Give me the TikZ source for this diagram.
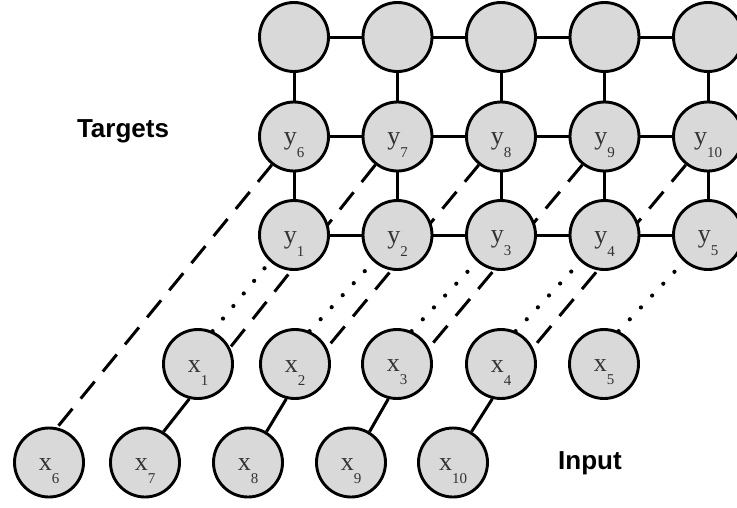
\documentclass[tikz,border=0pt]{standalone}
\usepackage{fontspec}
\setmainfont{Liberation Serif}
\newfontfamily\capfont{Liberation Sans}
\usetikzlibrary{backgrounds}
\definecolor{cellgray}{HTML}{D9D9D9}
\definecolor{textgray}{HTML}{333333}
% variable name with a lowered index; the strut keeps the pair centred like the drawing
\newcommand{\varlbl}[2]{\rule{0pt}{29pt}{\fontsize{26}{26}\selectfont #1}\raisebox{-13pt}{\fontsize{15}{15}\selectfont #2}}

\begin{document}
\begin{tikzpicture}[x=1pt,y=-1pt,
  unit/.style={circle, draw=black, line width=2.9pt, fill=cellgray,
    minimum size=69pt, inner sep=0pt, text=textgray},
  link/.style={line width=3pt},
  longdash/.style={line width=3pt, dash pattern=on 22pt off 13pt},
  dotlink/.style={line width=4.2pt, line cap=round, dash pattern=on 0pt off 16.3pt},
  caption/.style={font=\capfont\bfseries\fontsize{26}{26}\selectfont, text=black}]

\useasboundingbox (0,0) rectangle (737,507);

% hidden state row
\node[unit] (t1) at (294,37) {};
\node[unit] (t2) at (397.5,37) {};
\node[unit] (t3) at (501,37) {};
\node[unit] (t4) at (604.5,37) {};
\node[unit] (t5) at (708,37) {};

% target rows
\node[unit] (y6) at (294,136.5) {\varlbl{y}{6}};
\node[unit] (y7) at (397.5,136.5) {\varlbl{y}{7}};
\node[unit] (y8) at (501,136.5) {\varlbl{y}{8}};
\node[unit] (y9) at (604.5,136.5) {\varlbl{y}{9}};
\node[unit] (y10) at (708,136.5) {\varlbl{y}{10}};

\node[unit] (y1) at (294,235) {\varlbl{y}{1}};
\node[unit] (y2) at (397.5,235) {\varlbl{y}{2}};
\node[unit] (y3) at (501,235) {\varlbl{y}{3}};
\node[unit] (y4) at (604.5,235) {\varlbl{y}{4}};
\node[unit] (y5) at (708,235) {\varlbl{y}{5}};

% input rows
\node[unit] (x1) at (198,364) {\varlbl{x}{1}};
\node[unit] (x2) at (295,364) {\varlbl{x}{2}};
\node[unit] (x3) at (397,364) {\varlbl{x}{3}};
\node[unit] (x4) at (501,364) {\varlbl{x}{4}};
\node[unit] (x5) at (604,364) {\varlbl{x}{5}};

\node[unit] (x6) at (49,462.5) {\varlbl{x}{6}};
\node[unit] (x7) at (145,462.5) {\varlbl{x}{7}};
\node[unit] (x8) at (248,462.5) {\varlbl{x}{8}};
\node[unit] (x9) at (351,462.5) {\varlbl{x}{9}};
\node[unit] (x10) at (453,462.5) {\varlbl{x}{10}};

% captions
\node[caption] (tgt) at (123,131) {Targets};
\node[caption] (inp) at (590,463) {Input};

\begin{scope}[on background layer]
  % grid of the upper rows
  \foreach \a/\b in {t1/t2,t2/t3,t3/t4,t4/t5,
                     y6/y7,y7/y8,y8/y9,y9/y10,
                     y1/y2,y2/y3,y3/y4,y4/y5,
                     t1/y6,t2/y7,t3/y8,t4/y9,t5/y10,
                     y6/y1,y7/y2,y8/y3,y9/y4,y10/y5}
    \draw[link] (\a) -- (\b);
  % long links from the second input row
  \draw[longdash] (y6.232) -- (x6.77);
  \foreach \u/\m/\l in {y7/x1/x7, y8/x2/x8, y9/x3/x9, y10/x4/x10} {
    \draw[longdash] (\u.232) -- (\m.27);
    \draw[link] (\m.256) -- (\l.59);
  }
  % direct links from the first input row
  \foreach \l/\u in {x1/y1, x2/y2, x3/y3, x4/y4, x5/y5}
    \draw[dotlink] (\l.66) -- (\u.228);
\end{scope}
\end{tikzpicture}
\end{document}
